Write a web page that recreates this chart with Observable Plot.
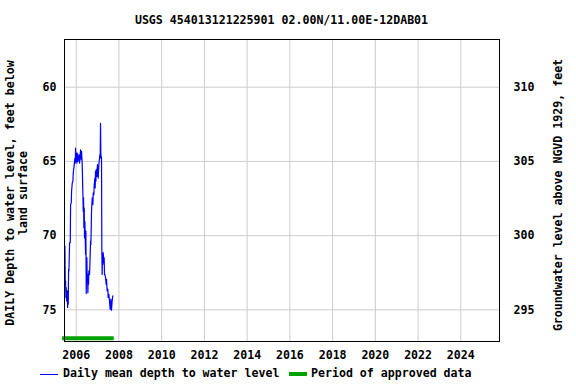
<!DOCTYPE html>
<html>
<head>
<meta charset="utf-8">
<script src="https://cdn.jsdelivr.net/npm/d3@7"></script>
<script src="https://cdn.jsdelivr.net/npm/@observablehq/plot@0.6"></script>
<style>
  body { margin: 0; background: #fff; }
  #wrap { position: relative; width: 576px; height: 384px; font-family: "DejaVu Sans Mono", monospace; font-weight: bold; font-size: 11.6px; color: #000; }
  #title { position: absolute; top: 13px; left: 0; width: 563px; text-align: center; white-space: nowrap; }
  .ylab { position: absolute; white-space: nowrap; text-align: center; transform: translate(-50%, -50%) rotate(-90deg); line-height: 13px; }
  .abs { position: absolute; white-space: nowrap; }
  .lt { top: 366px; line-height: 14px; }
</style>
</head>
<body>
<div id="wrap">
  <div id="title">USGS 454013121225901 02.00N/11.00E-12DAB01</div>
  <div class="ylab" style="left:17px; top:193px;">DAILY Depth to water level, feet below<br>land surface</div>
  <div class="ylab" style="left:558px; top:195px;">Groundwater level above NGVD 1929, feet</div>
  <div class="abs" style="left:40px; top:374px; width:18px; height:1px; background:#0000ff;"></div>
  <div class="abs lt" style="left:63px;">Daily mean depth to water level</div>
  <div class="abs" style="left:289px; top:372px; width:18px; height:4px; background:#00a000;"></div>
  <div class="abs lt" style="left:311px;">Period of approved data</div>
</div>
<script>
// Data (decimal years, depth to water in feet below land surface)
const years = [2005.470,2005.486,2005.502,2005.517,2005.533,2005.548,2005.579,2005.595,2005.611,2005.626,2005.642,2005.657,2005.688,2005.720,2005.735,2005.766,2005.782,2005.813,2005.844,2005.860,2005.907,2005.938,2005.953,2005.969,2005.984,2006.000,2006.031,2006.047,2006.078,2006.125,2006.156,2006.202,2006.234,2006.249,2006.280,2006.312,2006.327,2006.343,2006.358,2006.374,2006.389,2006.405,2006.436,2006.452,2006.467,2006.483,2006.498,2006.514,2006.530,2006.545,2006.561,2006.576,2006.592,2006.623,2006.639,2006.670,2006.685,2006.717,2006.748,2006.779,2006.794,2006.826,2006.841,2006.872,2006.888,2006.903,2006.919,2006.935,2006.966,2006.981,2006.997,2007.028,2007.059,2007.090,2007.106,2007.121,2007.137,2007.153,2007.168,2007.184,2007.199,2007.215,2007.231,2007.246,2007.262,2007.293,2007.308,2007.324,2007.340,2007.371,2007.402,2007.417,2007.449,2007.480,2007.495,2007.526,2007.558,2007.589,2007.620,2007.651,2007.682,2007.713];
const depths = [70.70,73.28,73.05,74.17,73.50,74.40,73.72,74.84,74.17,74.62,72.27,72.38,70.48,70.48,67.91,67.80,67.01,66.45,66.34,65.78,65.22,64.78,65.11,64.11,65.00,64.44,65.11,64.44,65.00,64.55,65.11,64.22,64.89,64.33,65.22,67.24,68.36,67.46,69.47,68.13,70.15,69.03,71.26,69.70,73.90,72.38,71.49,73.05,72.83,73.84,72.61,73.28,72.38,72.61,71.94,70.37,70.59,68.36,67.46,67.91,67.13,67.24,66.57,66.12,66.79,65.67,66.34,65.56,66.01,65.45,65.22,66.12,65.22,64.78,64.55,64.78,62.43,64.55,64.66,64.78,71.04,72.61,71.26,71.94,71.15,71.82,71.49,72.61,72.61,72.83,73.28,72.94,73.72,73.61,74.17,73.95,74.40,74.96,74.28,75.02,74.40,74.06];
const approvedPeriod = [2005.36, 2007.78];
const xDomainYears = [2005.45, 2025.81];
const yDomain = [56.79, 77.13];
const leftTicks = [60, 65, 70, 75];
const datumOffset = 370; // elevation = datumOffset - depth
const rightTickLabels = [310, 305, 300, 295];

function decToDate(y) {
  const yr = Math.floor(y);
  const s = Date.UTC(yr, 0, 1), e = Date.UTC(yr + 1, 0, 1);
  return new Date(s + (y - yr) * (e - s));
}

const series = years.map((y, i) => ({date: decToDate(y), depth: depths[i]}));
const approved = [{x1: decToDate(approvedPeriod[0]), x2: decToDate(approvedPeriod[1]), y: yDomain[1] - 0.22}];
const xTicks = d3.range(2006, 2025, 2).map(y => decToDate(y));

const chart = Plot.plot({
  width: 576,
  height: 384,
  marginTop: 39,
  marginBottom: 43,
  marginLeft: 64,
  marginRight: 77,
  style: {fontFamily: "DejaVu Sans Mono, monospace", fontSize: "11.6px", fontWeight: "bold", color: "#000", background: "transparent"},
  x: {type: "utc", domain: xDomainYears.map(decToDate)},
  y: {domain: yDomain, reverse: true},
  marks: [
    Plot.gridX(xTicks, {stroke: "#cccccc", strokeOpacity: 1}),
    Plot.gridY(leftTicks, {stroke: "#cccccc", strokeOpacity: 1}),
    Plot.axisX(xTicks, {tickSize: 0, tickPadding: 9, tickFormat: d3.utcFormat("%Y"), label: null}),
    Plot.axisY(leftTicks, {anchor: "left", tickSize: 0, tickPadding: 8, label: null}),
    Plot.axisY(rightTickLabels.map(v => datumOffset - v), {anchor: "right", tickSize: 0, tickPadding: 14, tickFormat: d => String(datumOffset - d), label: null}),
    Plot.ruleY(approved, {x1: "x1", x2: "x2", y: "y", stroke: "#00a000", strokeWidth: 4}),
    Plot.line(series, {x: "date", y: "depth", stroke: "#0000ff", strokeWidth: 1.2}),
    Plot.frame({stroke: "#000", strokeWidth: 1})
  ]
});
chart.style.position = "absolute";
chart.style.left = "0";
chart.style.top = "0";
document.getElementById("wrap").prepend(chart);
</script>
</body>
</html>
